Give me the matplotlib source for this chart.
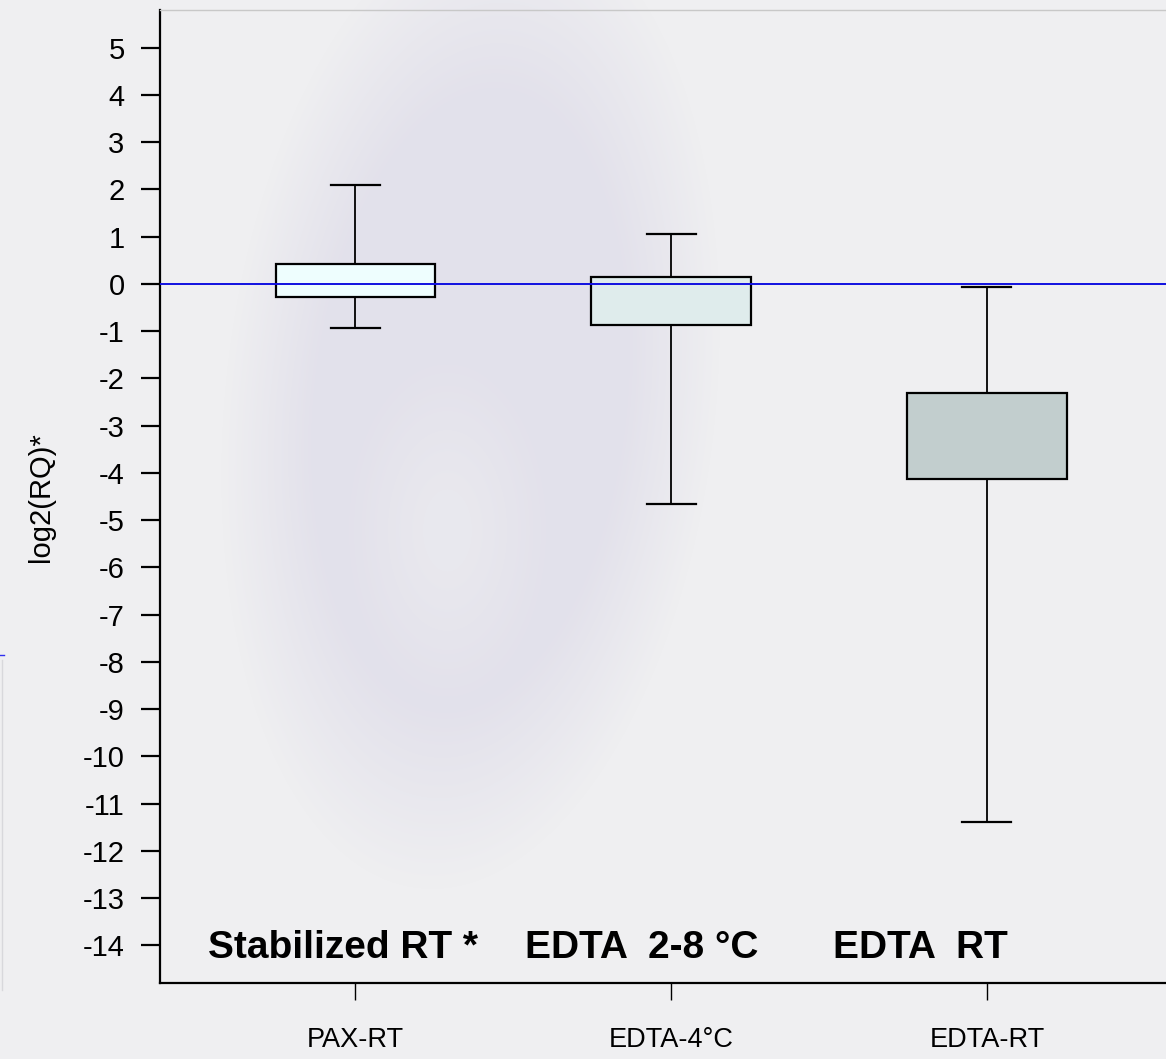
import matplotlib
matplotlib.use('Agg')
import numpy as np
import matplotlib.pyplot as plt
from matplotlib.lines import Line2D

# Data
groups = ['PAX-RT', 'EDTA-4°C', 'EDTA-RT']
whis_lo = [-0.93, -4.66, -11.40]
q1 = [-0.28, -0.87, -4.13]
med = [-0.02, -0.36, -3.16]
q3 = [0.42, 0.15, -2.31]
whis_hi = [2.10, 1.06, -0.06]
box_colors = ['#EEFEFE', '#DFECEC', '#C2CECE']
annotations = ['Stabilized RT *', 'EDTA  2-8 °C', 'EDTA  RT']
yticks = list(range(-14, 6))

plt.rcParams['font.family'] = ['Liberation Sans', 'DejaVu Sans']

W, H = 1166, 1059
bg = '#EFEFF1'
fig = plt.figure(figsize=(W / 100, H / 100), dpi=100, facecolor=bg)

# soft lavender smudge behind the plot (decoration of the slide background)
bgax = fig.add_axes([0, 0, 1, 1], zorder=0)
bgax.axis('off')
yy, xx = np.mgrid[0:H, 0:W].astype(float)
ang = np.deg2rad(-6)
dx, dy = xx - 470, yy - 400
u = dx * np.cos(ang) - dy * np.sin(ang)
v = dx * np.sin(ang) + dy * np.cos(ang)
r_out = np.sqrt((u / 205) ** 2 + (v / 410) ** 2)
outer = np.clip((1.2 - r_out) / 0.45, 0, 1)
r_in = np.sqrt(((xx - 447) / 80) ** 2 + ((yy - 530) / 135) ** 2)
inner = np.clip((1.3 - r_in) / 1.0, 0, 1)
alpha = outer * (1 - 0.5 * inner) * 0.5
img = np.zeros((H, W, 4))
img[..., 0], img[..., 1], img[..., 2] = 0.84, 0.83, 0.90
img[..., 3] = alpha
bgax.imshow(img, extent=[0, W, H, 0], aspect='auto', interpolation='bilinear')
bgax.set_xlim(0, W)
bgax.set_ylim(H, 0)

ax = fig.add_axes([160 / W, 1 - 983 / H, 1 - 160 / W, (983 - 10) / H], zorder=1)
ax.set_facecolor('none')

stats = []
for i, g in enumerate(groups):
    stats.append(dict(label=g, whislo=whis_lo[i], q1=q1[i], med=med[i], q3=q3[i], whishi=whis_hi[i]))

bp = ax.bxp(stats, positions=[1, 2, 3], widths=0.504, capwidths=0.155, showfliers=False,
            patch_artist=True,
            boxprops=dict(linewidth=1.6, edgecolor='black'),
            medianprops=dict(color='black', linewidth=1.6),
            whiskerprops=dict(color='black', linewidth=1.3),
            capprops=dict(color='black', linewidth=1.6))
for patch, c in zip(bp['boxes'], box_colors):
    patch.set_facecolor(c)
    patch.set_zorder(3)

ax.axhline(0, color='#1010E0', linewidth=1.4, zorder=4)

ax.set_xlim(0.382, 3.567)
ax.set_ylim(-14.8, 5.8)
ax.set_yticks(yticks)
ax.set_yticklabels([str(t) for t in yticks], fontsize=21)
ax.set_xticks([1, 2, 3])
ax.set_xticklabels(groups, fontsize=19.5)
ax.tick_params(axis='y', length=13.5, width=1.6, pad=12)
ax.tick_params(axis='x', length=12, width=1.0, pad=20)
ax.set_ylabel('log2(RQ)*', fontsize=21, va='center')
ax.yaxis.set_label_coords((41 - 160) / (W - 160), (983 - 497) / 973)

ax.spines['right'].set_visible(False)
ax.spines['top'].set_color('#C8C8C8')
ax.spines['top'].set_linewidth(1.0)
ax.spines['left'].set_linewidth(1.6)
ax.spines['bottom'].set_linewidth(1.6)

ann_x = [0.534, 1.539, 2.512]
for x, t in zip(ann_x, annotations):
    ax.text(x, -14.05, t, fontsize=28, fontweight='bold', ha='left', va='center')

# stray marks at the left edge of the slide
fig.add_artist(Line2D([0, 4 / W], [1 - 655 / H] * 2, color='#3030F0', linewidth=1.0))
fig.add_artist(Line2D([2 / W] * 2, [1 - 660 / H, 1 - 990 / H], color='#D8D8DC', linewidth=1.0))

fig.savefig('out.png', dpi=100, facecolor=bg)
